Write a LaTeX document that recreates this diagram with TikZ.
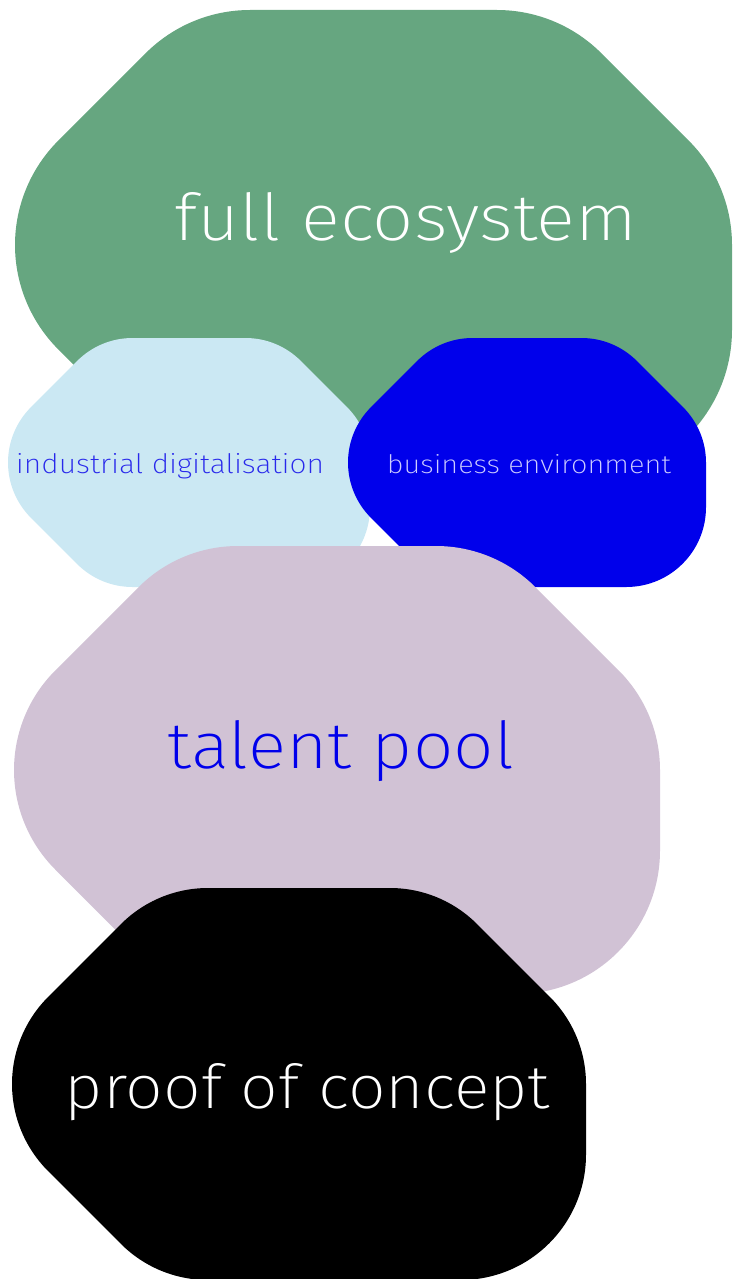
\documentclass[tikz,border=0pt]{standalone}
\usepackage{fontspec}
\setmainfont{Fira Sans ExtraLight}
\usepackage{graphicx}
\definecolor{ecogreen}{RGB}{102,166,128}
\definecolor{paleblue}{RGB}{203,232,243}
\definecolor{deepblue}{RGB}{0,0,235}
\definecolor{lilac}{RGB}{209,194,213}
\definecolor{textblue}{RGB}{40,40,235}
\definecolor{textlav}{RGB}{205,205,255}
\newcommand\blobshape[6]{%
 \pgfmathsetmacro\bW{#3}\pgfmathsetmacro\bH{#4}%
 \pgfmathsetmacro\bc{0.37*#4}\pgfmathsetmacro\bt{0.13*#4}\pgfmathsetmacro\bT{0.32*#4}%
 \pgfmathsetmacro\bs{0.7071*\bt}\pgfmathsetmacro\ka{0.64*\bt}\pgfmathsetmacro\kb{0.36*\bs}%
 \pgfmathsetmacro\kT{0.448*\bT}%
 \fill[#5,shift={(#1,#2)}]
 ({\bW-\bc-\bt},0) .. controls ({\bW-\bc-\bt+\ka},0) and ({\bW-\bc+\kb},{\kb}) .. ({\bW-\bc+\bs},{\bs})
 -- ({\bW-\bs},{\bc-\bs}) .. controls ({\bW-\kb},{\bc-\kb}) and ({\bW},{\bc+\bt-\ka}) .. ({\bW},{\bc+\bt})
 -- ({\bW},{\bH-\bT}) .. controls ({\bW},{\bH-\kT}) and ({\bW-\kT},{\bH}) .. ({\bW-\bT},{\bH})
 -- ({\bc+\bt},{\bH}) .. controls ({\bc+\bt-\ka},{\bH}) and ({\bc-\kb},{\bH-\kb}) .. ({\bc-\bs},{\bH-\bs})
 -- ({\bs},{\bH-\bc+\bs}) .. controls ({\kb},{\bH-\bc+\kb}) and (0,{\bH-\bc-\bt+\ka}) .. (0,{\bH-\bc-\bt})
 -- (0,{\bc+\bt}) .. controls (0,{\bc+\bt-\ka}) and ({\kb},{\bc-\kb}) .. ({\bs},{\bc-\bs})
 -- ({\bc-\bs},{\bs}) .. controls ({\bc-\kb},{\kb}) and ({\bc+\bt-\ka},0) .. ({\bc+\bt},0)
 -- cycle;%
 #6}
\tikzset{label/.style={inner sep=0pt, anchor=base}}
\begin{document}
\begin{tikzpicture}[x=0.5pt,y=-0.5pt]
\useasboundingbox (0,0) rectangle (733,1279);
\blobshape{15}{10}{717}{470}{ecogreen}{\node[label,text=white] (eco) at (406,240) {\resizebox{231pt}{24pt}{full ecosystem}};}
\blobshape{8}{338}{362}{249}{paleblue}{\node[label,text=textblue] (ind) at (170,473) {\resizebox{154pt}{10pt}{industrial digitalisation}};}
\blobshape{348}{338}{358}{249}{deepblue}{\node[label,text=textlav] (bus) at (529,473) {\resizebox{142pt}{9.5pt}{business environment}};}
\blobshape{14}{546}{646}{448}{lilac}{\node[label,text=deepblue] (tal) at (341,768) {\resizebox{173pt}{24pt}{talent pool}};}
\blobshape{12}{888}{574}{392}{black}{\node[label,text=white] (poc) at (307.5,1108) {\resizebox{242.5pt}{22.5pt}{proof of concept}};}
\end{tikzpicture}
\end{document}
